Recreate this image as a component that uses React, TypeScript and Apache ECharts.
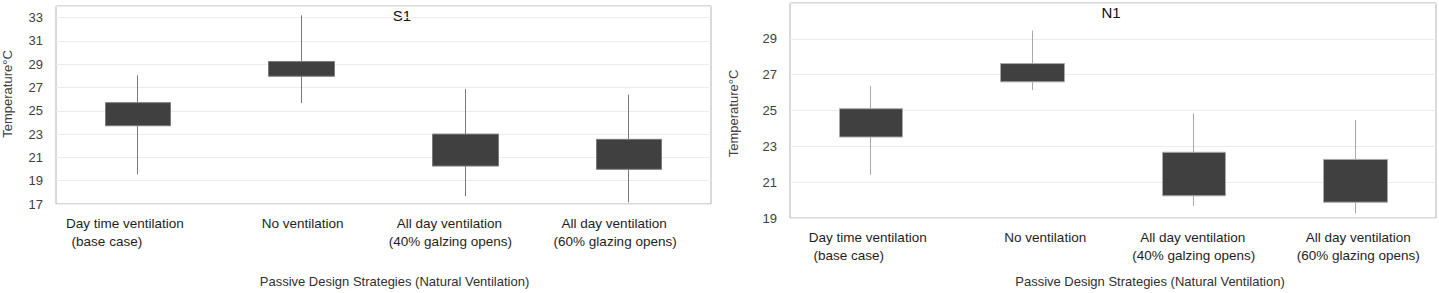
import React, { useEffect, useRef } from "react";
import * as echarts from "echarts";

// ---- Data ----
const categories = [
  "Day time ventilation\n(base case)",
  "No ventilation",
  "All day ventilation\n(40% galzing opens)",
  "All day ventilation\n(60% glazing opens)",
];

// S1 : [Q1, Q3, min, max]
const s1Q1 = [23.72, 27.97, 20.26, 19.98];
const s1Q3 = [25.7, 29.23, 23.0, 22.55];
const s1Min = [19.55, 25.66, 17.66, 17.15];
const s1Max = [28.05, 33.2, 26.86, 26.4];

// N1 : [Q1, Q3, min, max]
const n1Q1 = [23.52, 26.6, 20.24, 19.88];
const n1Q3 = [25.1, 27.62, 22.67, 22.27];
const n1Min = [21.41, 26.14, 19.68, 19.26];
const n1Max = [26.36, 29.46, 24.83, 24.47];

const s1Ticks = { min: 17, max: 34, interval: 2 };
const n1Ticks = { min: 19, max: 31, interval: 2 };

const titleS1 = "S1";
const titleN1 = "N1";
const yName = "Temperature°C";
const xName = "Passive Design Strategies (Natural Ventilation)";

// ---- Styling (label nudges in px, per category line) ----
const leftShift = [[-13, -31], [1], [-16, -15], [-15, -14]];
const rightShift = [[-3, -22], [13], [-1, 0], [3, 3]];

const FONT = "Liberation Sans";

function buildRich(shift: number[][], prefix: string) {
  const rich: Record<string, any> = {};
  shift.forEach((lines, ci) => {
    lines.forEach((s, li) => {
      rich[`${prefix}${ci}_${li}`] = {
        fontFamily: FONT,
        fontSize: 13.5,
        color: "#1e1e1e",
        lineHeight: 17.5,
        padding: s < 0 ? [0, -2 * s, 0, 0] : [0, 0, 0, 2 * s],
      };
    });
  });
  return rich;
}

function fmt(prefix: string) {
  return (value: string, index: number) =>
    value
      .split("\n")
      .map((line, li) => `{${prefix}${index}_${li}|${line}}`)
      .join("\n");
}

export default function App() {
  const ref = useRef<HTMLDivElement>(null);
  useEffect(() => {
    document.body.style.margin = "0";
    if (!ref.current) return;
    const chart = echarts.init(ref.current, undefined, { renderer: "svg" });

    const s1Data = categories.map((_, i) => [s1Q1[i], s1Q3[i], s1Min[i], s1Max[i]]);
    const n1Data = categories.map((_, i) => [n1Q1[i], n1Q3[i], n1Min[i], n1Max[i]]);

    const gridCommon = {
      show: true,
      borderColor: "#b4b4b4",
      borderWidth: 1,
      backgroundColor: "#ffffff",
      containLabel: false,
    };

    const yCommon = (ticks: any, padBottom: number, gap: number, namePad: number[]) => ({
      type: "value",
      min: ticks.min,
      max: ticks.max,
      interval: ticks.interval,
      name: yName,
      nameLocation: "middle",
      nameGap: gap,
      nameTextStyle: {
        fontFamily: FONT,
        fontSize: 13,
        color: "#404040",
        padding: namePad,
      },
      axisLine: { show: false },
      axisTick: { show: false },
      axisLabel: {
        showMaxLabel: false,
        fontFamily: FONT,
        fontSize: 13,
        color: "#404040",
        margin: 13,
        padding: [0, 0, padBottom, 0],
      },
      splitLine: { show: true, lineStyle: { color: "#ebebeb", width: 1.2 } },
    });

    const xCommon = (gridIndex: number, shift: number[][], prefix: string, gap: number, namePad: number[]) => ({
      type: "category",
      gridIndex,
      data: categories,
      name: xName,
      nameLocation: "middle",
      nameGap: gap,
      nameTextStyle: {
        fontFamily: FONT,
        fontSize: 13,
        color: "#303030",
        padding: namePad,
      },
      axisLine: { show: false },
      axisTick: { show: false },
      splitLine: { show: false },
      axisLabel: {
        interval: 0,
        margin: 11,
        formatter: fmt(prefix),
        rich: buildRich(shift, prefix),
      },
    });

    const titleStyle = {
      align: "center",
      verticalAlign: "middle",
      fontFamily: FONT,
      fontSize: 15,
      fontWeight: "normal",
      fill: "#111111",
    };

    chart.setOption({
      animation: false,
      backgroundColor: "#ffffff",
      grid: [
        { ...gridCommon, left: 55, top: 6, width: 656, height: 198 },
        { ...gridCommon, left: 790, top: 3, width: 646, height: 215 },
      ],
      xAxis: [
        xCommon(0, leftShift, "l", 71, [0, 0, 0, 22]),
        xCommon(1, rightShift, "r", 57, [0, 0, 0, 74]),
      ],
      yAxis: [
        { ...yCommon(s1Ticks, 6, 42, [0, 0, 0, 22]), gridIndex: 0 },
        { ...yCommon(n1Ticks, 3, 50, [0, 6, 0, 0]), gridIndex: 1 },
      ],
      graphic: [
        { type: "text", x: 402, y: 15, style: { ...titleStyle, text: titleS1 } },
        { type: "text", x: 1111, y: 12, style: { ...titleStyle, text: titleN1 } },
      ],
      series: [
        {
          type: "candlestick",
          xAxisIndex: 0,
          yAxisIndex: 0,
          barWidth: 66,
          data: s1Data,
          itemStyle: {
            color: "#404040",
            color0: "#404040",
            borderColor: "#7a7a7a",
            borderColor0: "#7a7a7a",
            borderWidth: 1,
          },
        },
        {
          type: "candlestick",
          xAxisIndex: 1,
          yAxisIndex: 1,
          barWidth: 64,
          data: n1Data,
          itemStyle: {
            color: "#404040",
            color0: "#404040",
            borderColor: "#a8a8a8",
            borderColor0: "#a8a8a8",
            borderWidth: 1,
          },
        },
      ],
    });

    return () => chart.dispose();
  }, []);

  return (
    <div
      ref={ref}
      style={{ position: "absolute", left: 0, top: 0, width: 1439, height: 293 }}
    />
  );
}
